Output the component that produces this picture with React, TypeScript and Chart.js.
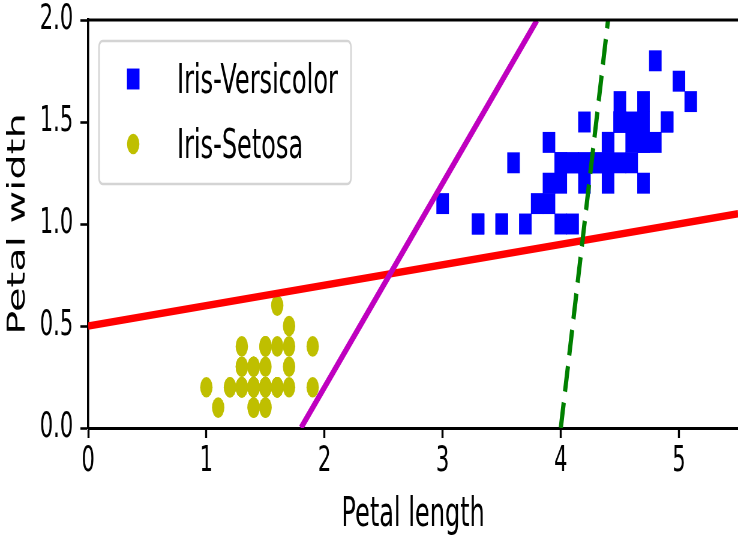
import React, { useEffect, useRef } from 'react';
import { Chart, registerables } from 'chart.js';

Chart.register(...registerables);

// ---- data ----
const versicolorLength = [4.7, 4.5, 4.9, 4.0, 4.6, 4.5, 4.7, 3.3, 4.6, 3.9, 3.5, 4.2, 4.0, 4.7, 3.6, 4.4, 4.5, 4.1, 4.5, 3.9, 4.8, 4.0, 4.9, 4.7, 4.3, 4.4, 4.8, 5.0, 4.5, 3.5, 3.8, 3.7, 3.9, 5.1, 4.5, 4.5, 4.7, 4.4, 4.1, 4.0, 4.4, 4.6, 4.0, 3.3, 4.2, 4.2, 4.2, 4.3, 3.0, 4.1];
const versicolorWidth = [1.4, 1.5, 1.5, 1.3, 1.5, 1.3, 1.6, 1.0, 1.3, 1.4, 1.0, 1.5, 1.0, 1.4, 1.3, 1.4, 1.5, 1.0, 1.5, 1.1, 1.8, 1.3, 1.5, 1.2, 1.3, 1.4, 1.4, 1.7, 1.5, 1.0, 1.1, 1.0, 1.2, 1.6, 1.5, 1.6, 1.5, 1.3, 1.3, 1.3, 1.2, 1.4, 1.2, 1.0, 1.3, 1.2, 1.3, 1.3, 1.1, 1.3];
const setosaLength = [1.4, 1.4, 1.3, 1.5, 1.4, 1.7, 1.4, 1.5, 1.4, 1.5, 1.5, 1.6, 1.4, 1.1, 1.2, 1.5, 1.3, 1.4, 1.7, 1.5, 1.7, 1.5, 1.0, 1.7, 1.9, 1.6, 1.6, 1.5, 1.4, 1.6, 1.6, 1.5, 1.5, 1.4, 1.5, 1.2, 1.3, 1.4, 1.3, 1.5, 1.3, 1.3, 1.3, 1.6, 1.9, 1.4, 1.6, 1.4, 1.5, 1.4];
const setosaWidth = [0.2, 0.2, 0.2, 0.2, 0.2, 0.4, 0.3, 0.2, 0.2, 0.1, 0.2, 0.2, 0.1, 0.1, 0.2, 0.4, 0.4, 0.3, 0.3, 0.3, 0.2, 0.4, 0.2, 0.5, 0.2, 0.2, 0.4, 0.2, 0.2, 0.2, 0.2, 0.4, 0.1, 0.2, 0.2, 0.2, 0.2, 0.1, 0.2, 0.2, 0.3, 0.3, 0.2, 0.6, 0.4, 0.3, 0.2, 0.2, 0.2, 0.2];

// decision boundaries (end points)
const greenLineX = [4.0, 4.4];
const greenLineY = [0.0, 2.0];
const magentaLineX = [1.8, 3.8];
const magentaLineY = [0.0, 2.0];
const redLineX = [0.0, 5.5];
const redLineY = [0.5, 1.05];

const xTickValues = [0, 1, 2, 3, 4, 5];
const yTickValues = [0.0, 0.5, 1.0, 1.5, 2.0];

const seriesLabels = ['Iris-Versicolor', 'Iris-Setosa'];
const xTitle = 'Petal length';
const yTitle = 'Petal width';

// ---- layout (the original picture is squeezed horizontally) ----
const SX = 0.6;
const W = Math.round(738 / SX);
const H = 544;
const FONT = 'DejaVu Sans';

const toPoints = (xs: number[], ys: number[]) => xs.map((x, i) => ({ x, y: ys[i] }));

const framePlugin = {
  id: 'topFrame',
  afterDraw(chart: any) {
    const { ctx, chartArea } = chart;
    ctx.save();
    ctx.strokeStyle = '#000';
    ctx.lineWidth = 2.8;
    ctx.beginPath();
    ctx.moveTo(chartArea.left - 2, chartArea.top);
    ctx.lineTo(chartArea.right, chartArea.top);
    ctx.stroke();
    ctx.restore();
  },
};

const legendPlugin = {
  id: 'boxLegend',
  afterDraw(chart: any) {
    const { ctx, chartArea } = chart;
    const bx = chartArea.left + 18;
    const by = chartArea.top + 21;
    const bw = 420;
    const bh = 143;
    ctx.save();
    ctx.fillStyle = 'rgba(255,255,255,0.85)';
    ctx.strokeStyle = '#d4d4d4';
    ctx.lineWidth = 2.6;
    ctx.beginPath();
    if ((ctx as any).roundRect) (ctx as any).roundRect(bx, by, bw, bh, 6);
    else ctx.rect(bx, by, bw, bh);
    ctx.fill();
    ctx.stroke();

    const items = chart.data.datasets.filter((d: any) => d.label);
    items.forEach((d: any, i: number) => {
      const cy = by + 38 + i * 65;
      const cx = bx + 57;
      ctx.fillStyle = d.backgroundColor;
      if (d.pointStyle === 'rect') {
        const half = Math.SQRT1_2 * d.pointRadius;
        ctx.fillRect(cx - half, cy - half, 2 * half, 2 * half);
      } else {
        ctx.beginPath();
        ctx.arc(cx, cy, d.pointRadius, 0, Math.PI * 2);
        ctx.fill();
      }
      ctx.fillStyle = '#000';
      ctx.font = `40px "${FONT}"`;
      ctx.textBaseline = 'alphabetic';
      ctx.textAlign = 'left';
      ctx.fillText(d.label, bx + 130, cy + 14);
    });
    ctx.restore();
  },
};

export default function App() {
  const canvasRef = useRef<HTMLCanvasElement | null>(null);

  useEffect(() => {
    if (!canvasRef.current) return;
    const chart = new Chart(canvasRef.current, {
      type: 'scatter',
      data: {
        datasets: [
          {
            data: toPoints(greenLineX, greenLineY),
            showLine: true,
            borderColor: '#008000',
            borderWidth: 7,
            borderDash: [26, 11],
            pointRadius: 0,
            clip: 0,
          } as any,
          {
            data: toPoints(magentaLineX, magentaLineY),
            showLine: true,
            borderColor: '#bf00bf',
            borderWidth: 7.5,
            pointRadius: 0,
            clip: 0,
          },
          {
            data: toPoints(redLineX, redLineY),
            showLine: true,
            borderColor: '#ff0000',
            borderWidth: 7.5,
            pointRadius: 0,
            clip: 0,
          },
          {
            label: seriesLabels[0],
            data: toPoints(versicolorLength, versicolorWidth),
            pointStyle: 'rect',
            pointRadius: 14.8,
            backgroundColor: '#0000ff',
            borderColor: '#0000ff',
            pointBorderWidth: 0,
          },
          {
            label: seriesLabels[1],
            data: toPoints(setosaLength, setosaWidth),
            pointStyle: 'circle',
            pointRadius: 10.3,
            backgroundColor: '#bfbf00',
            borderColor: '#bfbf00',
            pointBorderWidth: 0,
          },
        ],
      },
      options: {
        responsive: false,
        maintainAspectRatio: false,
        animation: false,
        devicePixelRatio: 1,
        layout: { autoPadding: false, padding: { top: 20, left: 0, right: 0, bottom: 0 } },
        plugins: {
          legend: { display: false },
          tooltip: { enabled: false },
        },
        scales: {
          x: {
            type: 'linear',
            min: 0,
            max: 5.5,
            afterBuildTicks: (scale: any) => {
              scale.ticks = xTickValues.map((v) => ({ value: v }));
            },
            afterFit: (scale: any) => {
              scale.height = 116;
              scale.paddingLeft = 0;
              scale.paddingRight = 0;
            },
            ticks: {
              color: '#000',
              font: { family: FONT, size: 35, lineHeight: 1.2 },
              padding: 3,
              maxRotation: 0,
              callback: (v: any) => String(v),
            },
            grid: {
              display: true,
              drawOnChartArea: false,
              drawTicks: true,
              tickLength: 10,
              tickWidth: 3.4,
              tickColor: '#000',
            },
            border: { display: true, color: '#000', width: 3 },
            title: {
              display: true,
              text: xTitle,
              color: '#000',
              font: { family: FONT, size: 40 },
              padding: { top: 0, bottom: 4 },
            },
          },
          y: {
            type: 'linear',
            min: 0,
            max: 2,
            afterBuildTicks: (scale: any) => {
              scale.ticks = yTickValues.map((v) => ({ value: v }));
            },
            afterFit: (scale: any) => {
              scale.width = 147;
              scale.paddingTop = 0;
              scale.paddingBottom = 0;
            },
            ticks: {
              color: '#000',
              font: { family: FONT, size: 35, lineHeight: 1 },
              padding: 12,
              callback: (v: any) => Number(v).toFixed(1),
            },
            grid: {
              display: true,
              drawOnChartArea: false,
              drawTicks: true,
              tickLength: 13,
              tickWidth: 2.6,
              tickColor: '#000',
            },
            border: { display: true, color: '#000', width: 3.6 },
            title: {
              display: true,
              text: yTitle,
              color: '#000',
              font: { family: FONT, size: 40 },
              padding: { top: 7, bottom: 0 },
            },
          },
        },
      },
      plugins: [framePlugin, legendPlugin],
    } as any);
    return () => chart.destroy();
  }, []);

  return (
    <div
      style={{
        position: 'fixed',
        left: 0,
        top: 0,
        width: 738,
        height: 544,
        overflow: 'hidden',
        background: '#fff',
      }}
    >
      <div
        style={{
          width: W,
          height: H,
          transform: `scaleX(${SX})`,
          transformOrigin: '0 0',
        }}
      >
        <canvas ref={canvasRef} width={W} height={H} style={{ display: 'block' }} />
      </div>
    </div>
  );
}
